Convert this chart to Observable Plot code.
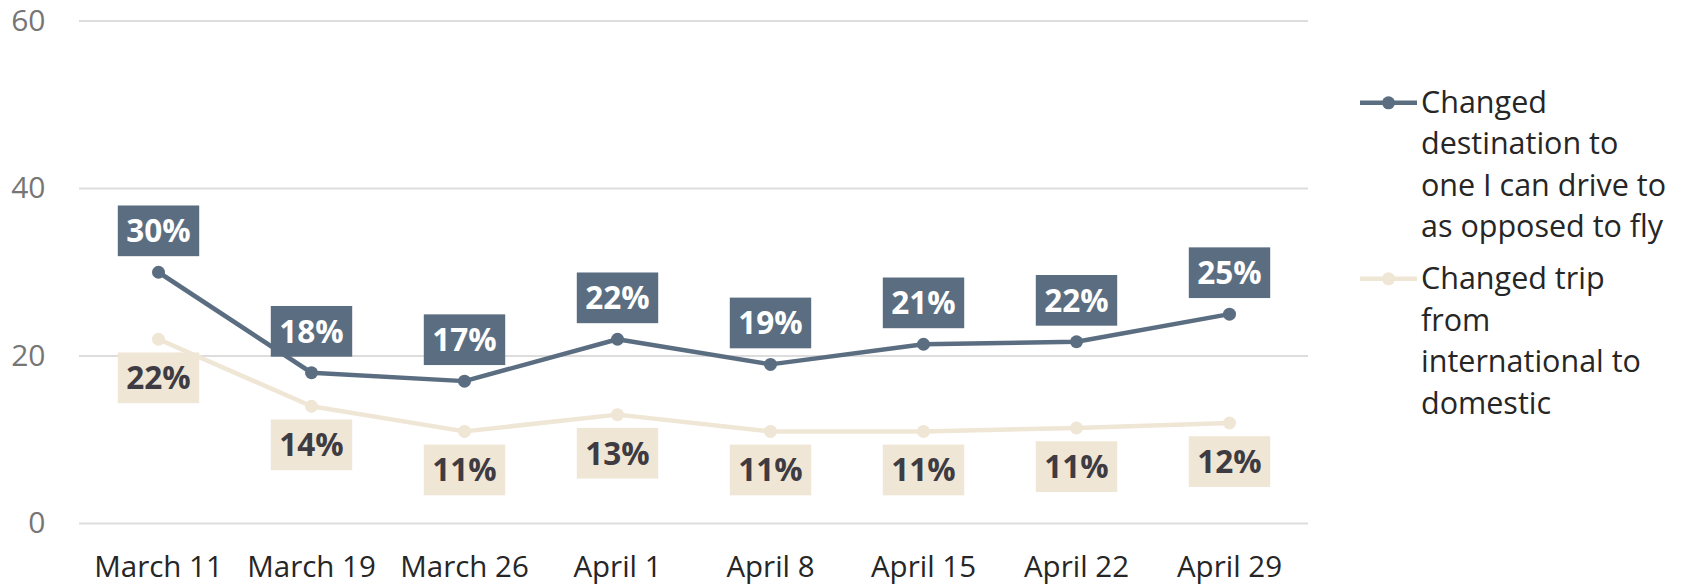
<!DOCTYPE html>
<html>
<head>
<meta charset="utf-8">
<script src="https://cdn.jsdelivr.net/npm/d3@7"></script>
<script src="https://cdn.jsdelivr.net/npm/@observablehq/plot@0.6"></script>
<style>
  body { margin: 0; background: #fff; font-family: "Open Sans", sans-serif; }
  #wrap { position: relative; width: 1681px; height: 587px; overflow: hidden; }
  #legend { position: absolute; left: 1360px; top: 80.5px; color: #262626; font-size: 30.5px; line-height: 41.6px; white-space: nowrap; }
  .entry { display: flex; align-items: flex-start; margin-bottom: 10.3px; }
  .entry svg { flex: none; margin-right: 4px; }
</style>
</head>
<body>
<div id="wrap"><div id="legend"></div></div>
<script>
// ---- data ----
const dates = ["March 11", "March 19", "March 26", "April 1", "April 8", "April 15", "April 22", "April 29"];
const driveValues = [30, 18, 17, 22, 19, 21.4, 21.7, 25];
const driveLabels = ["30%", "18%", "17%", "22%", "19%", "21%", "22%", "25%"];
const intlValues = [22, 14, 11, 13, 11, 11, 11.4, 12];
const intlLabels = ["22%", "14%", "11%", "13%", "11%", "11%", "11%", "12%"];
const seriesNames = [
  ["Changed", "destination to", "one I can drive to", "as opposed to fly"],
  ["Changed trip", "from", "international to", "domestic"]
];
const yTicks = [0, 20, 40, 60];

const blue = "#5B6E81";
const beige = "#EFE6D5";
const darkText = "#3E3B42";

const drive = dates.map((d, i) => ({date: d, value: driveValues[i], label: driveLabels[i]}));
const intl = dates.map((d, i) => ({date: d, value: intlValues[i], label: intlLabels[i]}));

const chart = Plot.plot({
  width: 1681,
  height: 587,
  marginLeft: 79,
  marginRight: 373,
  marginTop: 20.5,
  marginBottom: 64,
  style: {fontFamily: "Open Sans", background: "#fff"},
  x: {type: "point", domain: dates, padding: 0.5, label: null},
  y: {domain: [0, 60], ticks: yTicks, label: null},
  marks: [
    Plot.gridY(yTicks, {stroke: "#DDDDDD", strokeOpacity: 1, strokeWidth: 2}),
    Plot.axisY(yTicks, {tickSize: 0, tickPadding: 34, fontSize: 30, fill: "#767676", label: null}),
    Plot.axisX({tickSize: 0, tickPadding: 33, fontSize: 29.5, fill: "#262626", label: null}),
    Plot.line(intl, {x: "date", y: "value", stroke: beige, strokeWidth: 4.5}),
    Plot.dot(intl, {x: "date", y: "value", r: 6.5, fill: beige}),
    Plot.line(drive, {x: "date", y: "value", stroke: blue, strokeWidth: 4.5}),
    Plot.dot(drive, {x: "date", y: "value", r: 6.5, fill: blue}),
    Plot.text(drive, {x: "date", y: "value", text: "label", dy: -40, fontSize: 31.5, fontWeight: "bold", fill: "#FFFFFF", className: "lab-drive"}),
    Plot.text(intl, {x: "date", y: "value", text: "label", dy: 40, fontSize: 31.5, fontWeight: "bold", fill: darkText, className: "lab-intl"})
  ]
});

const wrap = document.getElementById("wrap");
wrap.insertBefore(chart, wrap.firstChild);

// label background boxes sized from the rendered text
const NS = "http://www.w3.org/2000/svg";
for (const [cls, fill] of [["lab-drive", blue], ["lab-intl", beige]]) {
  const g = chart.querySelector("g." + cls);
  if (!g) continue;
  const rg = document.createElementNS(NS, "g");
  const tr = g.getAttribute("transform");
  if (tr) rg.setAttribute("transform", tr);
  g.querySelectorAll("text").forEach(t => {
    const b = t.getBBox();
    const cy = b.y + b.height / 2 + 1;
    const r = document.createElementNS(NS, "rect");
    r.setAttribute("x", b.x - 8.5);
    r.setAttribute("width", b.width + 17);
    r.setAttribute("y", cy - 25.35);
    r.setAttribute("height", 50.7);
    r.setAttribute("fill", fill);
    const ttr = t.getAttribute("transform");
    if (ttr) r.setAttribute("transform", ttr);
    rg.appendChild(r);
  });
  g.parentNode.insertBefore(rg, g);
}

// legend
const legend = document.getElementById("legend");
[[blue, seriesNames[0]], [beige, seriesNames[1]]].forEach(([color, lines]) => {
  const e = document.createElement("div");
  e.className = "entry";
  e.innerHTML = `<svg width="57" height="41.6"><line x1="0" x2="57" y1="21.8" y2="21.8" stroke="${color}" stroke-width="4.5"/><circle cx="28.5" cy="21.8" r="6.5" fill="${color}"/></svg>`;
  const t = document.createElement("div");
  t.innerHTML = lines.map(l => `<div>${l}</div>`).join("");
  e.appendChild(t);
  legend.appendChild(e);
});
</script>
</body>
</html>
